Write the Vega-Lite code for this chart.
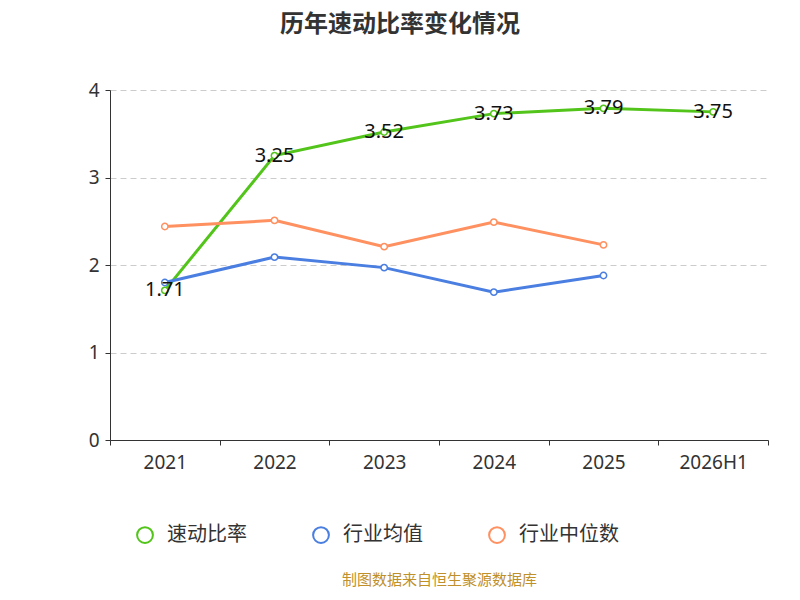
{
  "$schema": "https://vega.github.io/schema/vega-lite/v6.json",
  "width": 658,
  "height": 350,
  "autosize": "none",
  "padding": {"left": 110, "top": 90, "right": 32, "bottom": 160},
  "background": "white",
  "config": {"font": "Noto Sans", "view": {"stroke": null}},
  "title": {"text": "历年速动比率变化情况", "fontSize": 24, "fontWeight": "bold", "color": "#333", "offset": 44, "dx": -39, "font": "Noto Sans CJK SC"},
  "data": {"values": [
    {"year": "2021", "series": "速动比率", "value": 1.71},
    {"year": "2022", "series": "速动比率", "value": 3.25},
    {"year": "2023", "series": "速动比率", "value": 3.52},
    {"year": "2024", "series": "速动比率", "value": 3.73},
    {"year": "2025", "series": "速动比率", "value": 3.79},
    {"year": "2026H1", "series": "速动比率", "value": 3.75},
    {"year": "2021", "series": "行业均值", "value": 1.80},
    {"year": "2022", "series": "行业均值", "value": 2.09},
    {"year": "2023", "series": "行业均值", "value": 1.97},
    {"year": "2024", "series": "行业均值", "value": 1.69},
    {"year": "2025", "series": "行业均值", "value": 1.88},
    {"year": "2021", "series": "行业中位数", "value": 2.44},
    {"year": "2022", "series": "行业中位数", "value": 2.51},
    {"year": "2023", "series": "行业中位数", "value": 2.21},
    {"year": "2024", "series": "行业中位数", "value": 2.49},
    {"year": "2025", "series": "行业中位数", "value": 2.23}
  ]},
  "encoding": {
    "x": {"field": "year", "type": "nominal", "sort": null,
      "axis": {"labelAngle": 0, "labelFontSize": 19, "labelColor": "#333", "labelPadding": 8, "tickBand": "extent", "domainColor": "#333", "tickColor": "#333",
        "title": "制图数据来自恒生聚源数据库", "titleColor": "#c0902a", "titleFontSize": 15, "titleFontWeight": "normal", "titlePadding": 100, "titleFont": "Noto Sans CJK SC"}},
    "y": {"field": "value", "type": "quantitative", "scale": {"domain": [0, 4]},
      "axis": {"title": null, "values": [0, 1, 2, 3, 4], "labelFontSize": 19, "labelColor": "#333", "gridDash": [6, 4], "gridColor": "#ccc", "domainColor": "#333", "tickColor": "#333", "labelPadding": 6}},
    "color": {"field": "series", "type": "nominal", "sort": ["速动比率", "行业均值", "行业中位数"],
      "scale": {"domain": ["速动比率", "行业均值", "行业中位数"], "range": ["#52c41a", "#4a7ee0", "#ff9060"]},
      "legend": {"title": null, "orient": "none", "legendX": 25, "legendY": 435, "direction": "horizontal", "labelFontSize": 20, "labelColor": "#333", "labelFont": "Noto Sans CJK SC", "symbolType": "circle", "symbolSize": 250, "symbolFillColor": "white", "symbolStrokeWidth": 2, "columnPadding": 62, "labelOffset": 12}}
  },
  "layer": [
    {"mark": {"type": "line", "strokeWidth": 3}},
    {"mark": {"type": "point", "filled": false, "fill": "white", "fillOpacity": 1, "size": 40, "strokeWidth": 1.5, "opacity": 1}},
    {"transform": [{"filter": "datum.series === '速动比率'"}],
     "mark": {"type": "text", "fontSize": 20, "color": "#111"},
     "encoding": {"text": {"field": "value", "format": ".2f"}, "color": {"value": "#111"}}}
  ]
}
